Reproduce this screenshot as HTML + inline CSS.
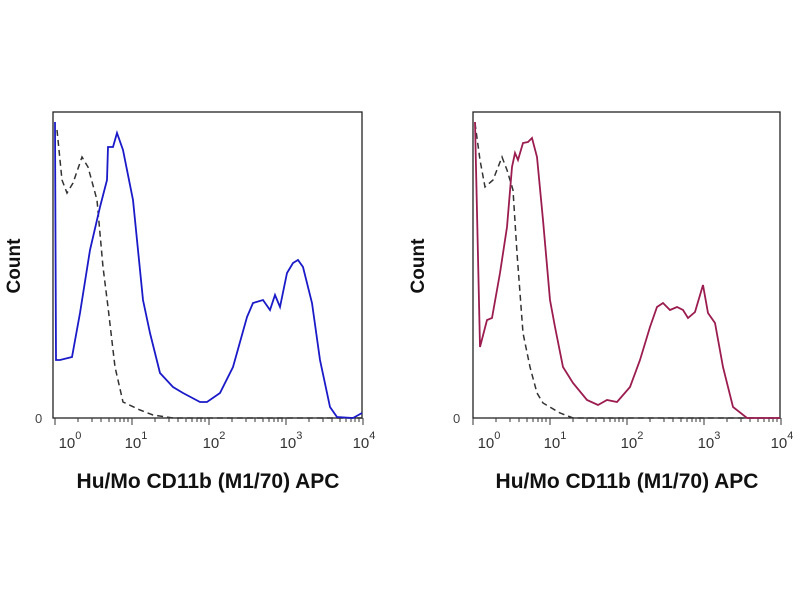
<!DOCTYPE html>
<html><head><meta charset="utf-8"><style>
body{margin:0;background:#fff;}
svg{display:block;font-family:"Liberation Sans",Arial,sans-serif;}
</style></head><body>
<svg width="800" height="600" viewBox="0 0 800 600">
<defs>
<g id="ticks" stroke="#333" stroke-width="1">
<path d="M0,418v7M77,418v7M154,418v7M231,418v7M308,418v7"/>
<path d="M23,418v4M37,418v4M46,418v4M54,418v4M60,418v4M65,418v4M69,418v4M73,418v4
M100,418v4M114,418v4M123,418v4M131,418v4M137,418v4M142,418v4M146,418v4M150,418v4
M177,418v4M191,418v4M200,418v4M208,418v4M214,418v4M219,418v4M223,418v4M227,418v4
M254,418v4M268,418v4M277,418v4M285,418v4M291,418v4M296,418v4M300,418v4M304,418v4"/>
</g>
</defs>
<g id="L">
<rect x="53" y="112" width="309" height="306" fill="none" stroke="#222" stroke-width="1.3"/>
<use href="#ticks" transform="translate(55,0)"/>
<text x="35" y="423" font-size="13" fill="#444">0</text>
<g font-size="15" fill="#333" text-anchor="middle">
<text x="70" y="448">10<tspan font-size="11" dy="-9">0</tspan></text>
<text x="136" y="448">10<tspan font-size="11" dy="-9">1</tspan></text>
<text x="214" y="448">10<tspan font-size="11" dy="-9">2</tspan></text>
<text x="291" y="448">10<tspan font-size="11" dy="-9">3</tspan></text>
<text x="364" y="448">10<tspan font-size="11" dy="-9">4</tspan></text>
</g>
<text transform="translate(20,266) rotate(-90)" font-size="19" font-weight="bold" text-anchor="middle" fill="#111">Count</text>
<text x="208" y="488" font-size="21" font-weight="bold" text-anchor="middle" fill="#111">Hu/Mo CD11b (M1/70) APC</text>
<polyline fill="none" stroke="#333" stroke-width="1.5" stroke-dasharray="6,4" points="57,130 62,180 67,193 73,183 82,157 88,167 97,200 103,267 108,307 115,367 123,402 140,410 153,415 173,418 362,418"/>
<polyline fill="none" stroke="#1a1ac8" stroke-width="1.8" points="55,122 56,360 60,360 72,357 80,313 90,250 100,207 107,180 108,147 113,147 117,133 123,150 133,200 143,300 150,333 160,373 173,387 183,393 200,402 207,402 220,393 233,367 247,317 253,303 263,300 270,310 275,295 280,307 287,273 293,263 298,260 303,267 312,303 320,360 330,407 337,417 353,418 362,413"/>
</g>
<g id="R">
<rect x="473" y="112" width="307" height="306" fill="none" stroke="#222" stroke-width="1.3"/>
<use href="#ticks" transform="translate(473,0)"/>
<text x="453" y="423" font-size="13" fill="#444">0</text>
<g font-size="15" fill="#333" text-anchor="middle">
<text x="489" y="448">10<tspan font-size="11" dy="-9">0</tspan></text>
<text x="555" y="448">10<tspan font-size="11" dy="-9">1</tspan></text>
<text x="632" y="448">10<tspan font-size="11" dy="-9">2</tspan></text>
<text x="709" y="448">10<tspan font-size="11" dy="-9">3</tspan></text>
<text x="782" y="448">10<tspan font-size="11" dy="-9">4</tspan></text>
</g>
<text transform="translate(424,266) rotate(-90)" font-size="19" font-weight="bold" text-anchor="middle" fill="#111">Count</text>
<text x="627" y="488" font-size="21" font-weight="bold" text-anchor="middle" fill="#111">Hu/Mo CD11b (M1/70) APC</text>
<polyline fill="none" stroke="#333" stroke-width="1.5" stroke-dasharray="6,4" points="475,123 480,160 485,187 493,180 502,157 507,170 513,190 517,253 523,333 530,367 537,393 543,403 560,413 573,418 780,418"/>
<polyline fill="none" stroke="#9b1d50" stroke-width="1.8" points="475,122 480,347 487,320 492,318 500,273 507,227 512,167 515,153 518,160 523,143 528,142 532,138 537,157 543,220 550,300 555,327 563,367 573,383 587,400 598,405 607,400 617,402 630,387 640,360 650,327 657,307 663,303 670,310 677,307 683,310 688,318 695,312 703,285 708,313 715,323 723,367 733,407 747,418 780,418"/>
</g>
</svg>
</body></html>
